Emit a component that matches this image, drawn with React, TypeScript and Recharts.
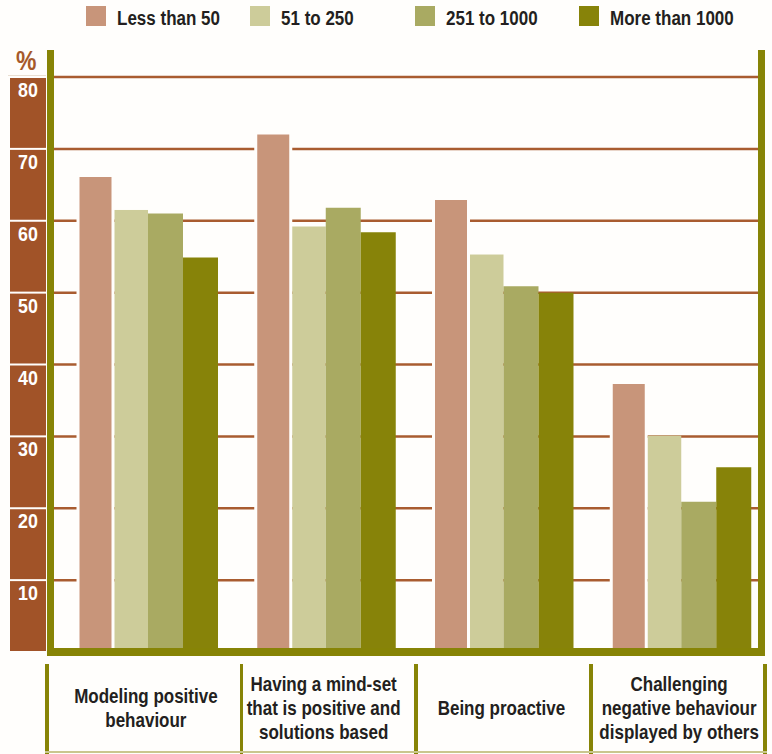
import { BarChart, Bar, XAxis, YAxis, CartesianGrid } from 'recharts';

const categories = [
  'Modeling positive\nbehaviour',
  'Having a mind-set\nthat is positive and\nsolutions based',
  'Being proactive',
  'Challenging\nnegative behaviour\ndisplayed by others',
];
const lessThan50 = [66.3, 72.2, 63.1, 37.5];
const from51to250 = [61.5, 59.2, 55.3, 30.1];
const from251to1000 = [61.0, 61.8, 50.9, 20.9];
const moreThan1000 = [54.9, 58.4, 50.0, 25.7];
const yTicks = [10, 20, 30, 40, 50, 60, 70, 80];

const seriesNames = ['Less than 50', '51 to 250', '251 to 1000', 'More than 1000'];
const seriesColors = ['#c8957a', '#cdcc9a', '#a9aa62', '#878309'];

// no narrow face installed, so bold Liberation Sans gets squeezed horizontally
const FONT = '"Liberation Sans", Arial, sans-serif';
const SQUEEZE = 0.85;
const OLIVE = '#878406';
const BROWN = '#a15328';
const GRID = '#a95c30';
const INK = '#231f20';
const BG = '#fffefc';

const W = 772;
const H = 754;
const PLOT_TOP = 77;
const PLOT_BOTTOM = 652;
const CELL = ((PLOT_BOTTOM - PLOT_TOP) / 80) * 10;

const data = categories.map((name, i) => ({
  name,
  s0: lessThan50[i],
  s1: from51to250[i],
  s2: from251to1000[i],
  s3: moreThan1000[i],
}));

const NarrowText = ({ x, y, size, fill, children }: any) => (
  <text
    transform={`translate(${x},${y}) scale(${SQUEEZE},1)`}
    textAnchor="middle"
    fill={fill}
    fontSize={size}
    fontWeight="bold"
    fontFamily={FONT}
  >
    {children}
  </text>
);

// brown value cells on the left, one per 10% band
const YTick = ({ y, payload }: any) => (
  <g>
    <rect x={10} y={y + 1} width={36} height={CELL - 2} fill={BROWN} />
    <NarrowText x={28} y={y + 20} size={21} fill="#fff">
      {payload.value}
    </NarrowText>
  </g>
);

const XTick = ({ x, payload }: any) => {
  const lines = String(payload.value).split('\n');
  const mid = 715;
  return (
    <g>
      {lines.map((line, i) => (
        <NarrowText key={i} x={x - 2} y={mid + (i - (lines.length - 1) / 2) * 24} size={20} fill={INK}>
          {line}
        </NarrowText>
      ))}
    </g>
  );
};

const gridLine = (props: any) => (
  <line key={props.key} x1={54} x2={758} y1={props.y1} y2={props.y2} stroke={GRID} strokeWidth={2.5} />
);

// leaves a thin white seam next to the first bar of each group
const SeamBar = (props: any) => (
  <rect x={props.x + 1.5} y={props.y} width={Math.max(props.width - 1.5, 0)} height={props.height} fill={props.fill} />
);

const boxLines = [45, 239.5, 414, 589, 763];

export default function App() {
  return (
    <div style={{ position: 'absolute', left: 0, top: 0, width: W, height: H, background: BG, fontFamily: FONT }}>
      <BarChart
        width={W}
        height={H}
        data={data}
        margin={{ top: PLOT_TOP, right: 2, bottom: 0, left: 0 }}
        barGap={0}
        barSize={35}
      >
        <CartesianGrid vertical={false} horizontal={gridLine} />
        <YAxis
          domain={[0, 80]}
          ticks={yTicks}
          width={59}
          axisLine={false}
          tickLine={false}
          tick={<YTick />}
          interval={0}
        />
        <XAxis dataKey="name" height={102} axisLine={false} tickLine={false} interval={0} tick={<XTick />} />
        <Bar dataKey="s0" name={seriesNames[0]} fill={seriesColors[0]} stroke={BG} strokeWidth={3} isAnimationActive={false} />
        <Bar dataKey="s1" name={seriesNames[1]} fill={seriesColors[1]} shape={<SeamBar />} isAnimationActive={false} />
        <Bar dataKey="s2" name={seriesNames[2]} fill={seriesColors[2]} isAnimationActive={false} />
        <Bar dataKey="s3" name={seriesNames[3]} fill={seriesColors[3]} isAnimationActive={false} />
      </BarChart>

      {/* legend */}
      <div style={{ position: 'absolute', left: 86, top: 6, display: 'flex' }}>
        {seriesNames.map((n, i) => (
          <div key={n} style={{ width: 164.3, display: 'flex', alignItems: 'center', height: 20 }}>
            <span style={{ width: 20, height: 20, background: seriesColors[i], display: 'inline-block', flex: 'none' }} />
            <span
              style={{
                marginLeft: 11,
                fontSize: 20,
                fontWeight: 'bold',
                color: INK,
                whiteSpace: 'nowrap',
                display: 'inline-block',
                transform: `translateY(2px) scaleX(${SQUEEZE})`,
                transformOrigin: 'left center',
              }}
            >
              {n}
            </span>
          </div>
        ))}
      </div>

      {/* percent sign above the value cells */}
      <div
        style={{
          position: 'absolute',
          left: 16,
          top: 46,
          fontSize: 27,
          fontWeight: 'bold',
          color: '#a65a2b',
          transform: `scaleX(${SQUEEZE})`,
          transformOrigin: 'left center',
        }}
      >
        %
      </div>
      <div style={{ position: 'absolute', left: 8, top: 75, width: 38, height: 1, background: '#eadfd2' }} />

      {/* olive frame around the plot */}
      <div style={{ position: 'absolute', left: 47, top: 50, width: 7, height: 606, background: OLIVE }} />
      <div style={{ position: 'absolute', left: 758, top: 50, width: 7, height: 606, background: OLIVE }} />
      <div style={{ position: 'absolute', left: 47, top: 648, width: 718, height: 8, background: OLIVE }} />

      {/* category boxes */}
      {boxLines.map((x) => (
        <div key={x} style={{ position: 'absolute', left: x, top: 664, width: 3.5, height: 90, background: OLIVE }} />
      ))}
      <div style={{ position: 'absolute', left: 45, top: 751, width: 722, height: 2, background: '#c9c68e' }} />
    </div>
  );
}
